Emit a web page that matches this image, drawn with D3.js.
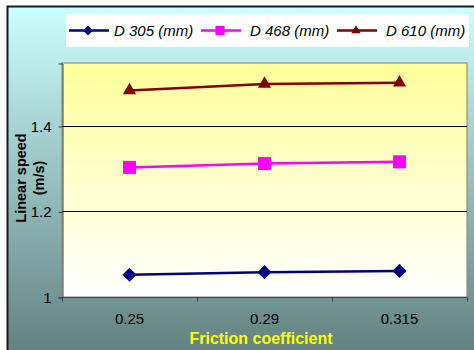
<!DOCTYPE html>
<meta charset="utf-8">
<style>
body { margin: 0; background: #fff; }
text { font-family: "Liberation Sans", Arial, sans-serif; }
</style>
<body>
<script src="https://d3js.org/d3.v7.min.js"></script>
<script>
// data
var categories = ["0.25", "0.29", "0.315"];
var seriesNames = ["D 305 (mm)", "D 468 (mm)", "D 610 (mm)"];
var d305 = [1.052, 1.058, 1.061];
var d468 = [1.303, 1.312, 1.316];
var d610 = [1.483, 1.498, 1.501];
var yTicks = [1, 1.2, 1.4];

var colors = ["#000080", "#ff00ff", "#800000"];
var symbols = [d3.symbolSquare, d3.symbolSquare, d3.symbolTriangle];
var symSizes = [100, 170, 75];
var symRot = [45, 0, 0];

var W = 474, H = 350;
var plot = {left: 62, top: 63, right: 467, bottom: 297};

var svg = d3.select("body").append("svg")
    .attr("width", W).attr("height", H);

var defs = svg.append("defs");
var bg = defs.append("linearGradient").attr("id", "bg")
    .attr("x1", 0).attr("y1", 0).attr("x2", 0).attr("y2", 1);
bg.append("stop").attr("offset", "0%").attr("stop-color", "#ccffff");
bg.append("stop").attr("offset", "100%").attr("stop-color", "#5e7c7a");
var pg = defs.append("linearGradient").attr("id", "pg")
    .attr("x1", 0).attr("y1", 0).attr("x2", 0).attr("y2", 1);
pg.append("stop").attr("offset", "0%").attr("stop-color", "#ffff99");
pg.append("stop").attr("offset", "100%").attr("stop-color", "#ffffff");

// outer chart area
svg.append("rect")
    .attr("x", 7.5).attr("y", 6.5).attr("width", W + 10).attr("height", H + 10)
    .attr("fill", "url(#bg)").attr("stroke", "#1a1a1a").attr("stroke-width", 2);

// plot area
svg.append("rect")
    .attr("x", plot.left).attr("y", plot.top)
    .attr("width", plot.right - plot.left).attr("height", plot.bottom - plot.top)
    .attr("fill", "url(#pg)").attr("stroke", "#808080").attr("stroke-width", 1);

var x = d3.scaleBand().domain(categories).range([plot.left, plot.right]);
var y = d3.scaleLinear().domain([1, 1.547]).range([plot.bottom, plot.top]);

// gridlines
svg.append("g").selectAll("line")
    .data(yTicks.filter(function(t) { return t > 1; }))
  .enter().append("line")
    .attr("x1", plot.left).attr("x2", plot.right)
    .attr("y1", function(d) { return Math.round(y(d)) + 0.5; })
    .attr("y2", function(d) { return Math.round(y(d)) + 0.5; })
    .attr("stroke", "#000").attr("stroke-width", 1);

// y axis
var yAxis = svg.append("g")
    .attr("transform", "translate(" + (plot.left + 0.5) + ",0.5)")
    .call(d3.axisLeft(y).tickValues(yTicks).tickSize(4).tickPadding(7)
      .tickFormat(function(d) { return d3.format("")(d); }));
yAxis.select(".domain").attr("stroke", "#404040");
yAxis.selectAll(".tick line").attr("stroke", "#404040");
yAxis.selectAll("text").attr("font-size", 15).attr("fill", "#000")
    .attr("font-family", "Liberation Sans, Arial, sans-serif");

// x axis: category boundaries as ticks
var xAxis = svg.append("g")
    .attr("transform", "translate(0," + (plot.bottom + 0.5) + ")");
xAxis.append("line")
    .attr("x1", plot.left).attr("x2", plot.right)
    .attr("stroke", "#404040");
var bounds = categories.map(function(c) { return x(c); }).concat([x(categories[categories.length - 1]) + x.bandwidth()]);
xAxis.selectAll("line.tk").data(bounds).enter().append("line")
    .attr("class", "tk")
    .attr("x1", function(d) { return Math.round(d) + 0.5; })
    .attr("x2", function(d) { return Math.round(d) + 0.5; })
    .attr("y1", 0).attr("y2", 4).attr("stroke", "#404040");
xAxis.selectAll("text").data(categories).enter().append("text")
    .attr("x", function(d) { return x(d) + x.bandwidth() / 2; })
    .attr("y", 26)
    .attr("text-anchor", "middle").attr("font-size", 15).attr("fill", "#000")
    .text(function(d) { return d; });

// axis titles
svg.append("text")
    .attr("x", 261).attr("y", 344)
    .attr("text-anchor", "middle").attr("font-size", 16).attr("font-weight", "bold")
    .attr("fill", "#ffff00").text("Friction coefficient");
var yt = svg.append("text")
    .attr("transform", "translate(26,178) rotate(-90)")
    .attr("text-anchor", "middle").attr("font-size", 14.5).attr("font-weight", "bold")
    .attr("fill", "#000");
yt.append("tspan").attr("x", 0).attr("dy", 0).text("Linear speed");
yt.append("tspan").attr("x", 0).attr("dy", 18).text("(m/s)");

// series
var series = [d305, d468, d610];
var line = d3.line()
    .x(function(d, i) { return x(categories[i]) + x.bandwidth() / 2; })
    .y(function(d) { return y(d); });

series.forEach(function(s, k) {
  svg.append("path")
      .attr("d", line(s))
      .attr("fill", "none").attr("stroke", colors[k]).attr("stroke-width", 2.5);
  svg.append("g").selectAll("path").data(s).enter().append("path")
      .attr("transform", function(d, i) {
        return "translate(" + (x(categories[i]) + x.bandwidth() / 2) + "," + y(d) + ") rotate(" + symRot[k] + ")";
      })
      .attr("d", d3.symbol().type(symbols[k]).size(symSizes[k]))
      .attr("fill", colors[k]);
});

// legend
var lg = svg.append("g");
lg.append("rect")
    .attr("x", 66).attr("y", 14).attr("width", 403).attr("height", 33)
    .attr("fill", "#fff");
var lx = [69, 201, 337];
var tx = [114, 250, 386];
seriesNames.forEach(function(n, k) {
  lg.append("line")
      .attr("x1", lx[k]).attr("x2", lx[k] + 40).attr("y1", 30.5).attr("y2", 30.5)
      .attr("stroke", colors[k]).attr("stroke-width", 2.5);
  lg.append("path")
      .attr("transform", "translate(" + (lx[k] + 19) + ",30.5) rotate(" + symRot[k] + ")")
      .attr("d", d3.symbol().type(symbols[k]).size(symSizes[k] * 0.5))
      .attr("fill", colors[k]);
  lg.append("text")
      .attr("x", tx[k]).attr("y", 35.5)
      .attr("font-size", 15).attr("font-style", "italic").attr("fill", "#000")
      .text(n);
});
</script>
</body>
